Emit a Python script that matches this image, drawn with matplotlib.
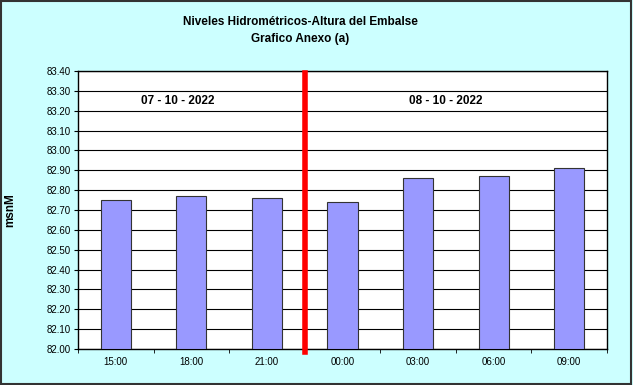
import matplotlib.pyplot as plt
import matplotlib.patches as patches
import numpy as np

plt.rcParams['font.family'] = ['Liberation Sans', 'DejaVu Sans']

horas = ['15:00', '18:00', '21:00', '00:00', '03:00', '06:00', '09:00']
niveles = [82.75, 82.77, 82.76, 82.74, 82.86, 82.87, 82.91]
yticks = np.round(np.arange(82.0, 83.41, 0.1), 2)

fig = plt.figure(figsize=(6.33, 3.85), dpi=100)
fig.patch.set_facecolor('#CCFFFF')
fig.patches.append(patches.Rectangle((0.002, 0.003), 0.995, 0.994, transform=fig.transFigure,
                                     fill=False, edgecolor='#333333', linewidth=1.5))

ax = fig.add_axes([78/633, 1 - 349/385, 529/633, 278/385])
ax.set_facecolor('white')

x = np.arange(len(horas))
ax.bar(x, [v - 82.0 for v in niveles], bottom=82.0, width=0.4,
       color='#9999FF', edgecolor='#333333', linewidth=0.8, zorder=3)

ax.set_xlim(-0.5, len(horas) - 0.5)
ax.set_ylim(82.0, 83.4)
ax.set_yticks(yticks)
ax.set_yticklabels(['%.2f' % t for t in yticks], fontsize=7)
ax.yaxis.grid(True, color='black', linewidth=0.8, zorder=0)

ax.set_xticks(x)
ax.set_xticklabels(horas, fontsize=7)
ax.tick_params(axis='x', length=0, pad=6)
ax.set_xticks(np.arange(-0.5, len(horas)), minor=True)
ax.tick_params(axis='x', which='minor', length=3, direction='out')
ax.tick_params(axis='y', length=3, direction='out', pad=2)

for s in ax.spines.values():
    s.set_color('black')
    s.set_linewidth(1.0)

ax.plot([2.5, 2.5], [83.39, 81.985], color='red', linewidth=4, zorder=5, clip_on=False)

ax.text(0.82, 83.25, '07 - 10 - 2022', ha='center', va='center', fontsize=8.5, fontweight='bold')
ax.text(4.37, 83.25, '08 - 10 - 2022', ha='center', va='center', fontsize=8.5, fontweight='bold')

fig.text(300/633, 1 - 22/385, 'Niveles Hidrométricos-Altura del Embalse', ha='center', va='center',
         fontsize=8.5, fontweight='bold')
fig.text(300/633, 1 - 39/385, 'Grafico Anexo (a)', ha='center', va='center',
         fontsize=8.5, fontweight='bold')
fig.text(10/633, 1 - 210/385, 'msnM', rotation=90, ha='center', va='center',
         fontsize=8.5, fontweight='bold')

fig.savefig('out.png', dpi=100, facecolor=fig.get_facecolor())
